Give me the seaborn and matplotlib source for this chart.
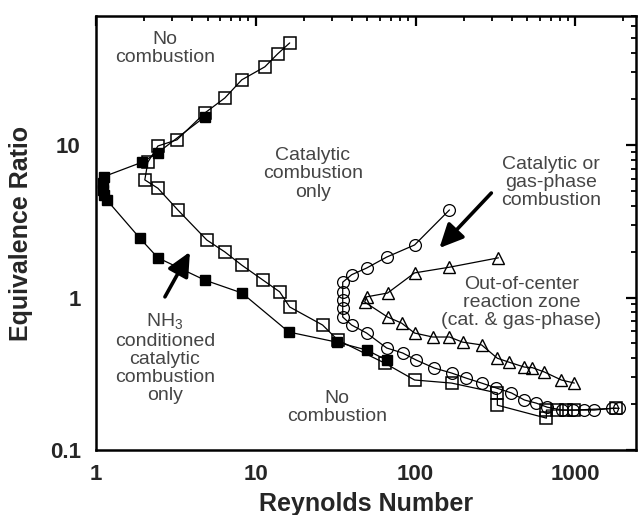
import matplotlib
matplotlib.use("Agg")
import matplotlib.pyplot as plt
import seaborn as sns
import numpy as np
from matplotlib.ticker import LogLocator, NullFormatter, FixedLocator, FixedFormatter

# ---- data ----
# NH3-conditioned catalytic combustion (filled squares)
re_nh3 = [4.8, 2.44, 1.94, 1.12, 1.10, 1.10, 1.13, 1.17, 1.88, 2.44, 4.80, 8.2, 16.1, 32.1, 49.4, 65.9]
phi_nh3 = [15.3, 8.9, 7.7, 6.2, 5.6, 5.1, 4.7, 4.35, 2.45, 1.82, 1.30, 1.07, 0.594, 0.51, 0.453, 0.389]

# catalytic combustion only boundary (open squares)
re_cat = [16.3, 13.7, 11.4, 8.17, 6.40, 4.80, 3.21, 2.44, 2.11, 2.02, 2.44, 3.25, 4.94, 6.40, 8.17,
          11.1, 14.1, 16.3, 26.2, 32.6, 64.0, 98.6, 168, 325, 325, 659, 659, 772, 879, 986, 1800]
phi_cat = [46.6, 39.5, 32.5, 26.7, 20.3, 16.2, 10.8, 9.84, 7.7, 5.9, 5.2, 3.75, 2.38, 1.99, 1.63,
           1.30, 1.09, 0.867, 0.66, 0.526, 0.372, 0.288, 0.275, 0.237, 0.197, 0.162, 0.183, 0.183, 0.183, 0.183, 0.188]

# catalytic or gas-phase combustion (open circles)
re_gas = [163, 98.6, 65.9, 49.4, 39.8, 35.0, 35.0, 35.0, 35.0, 35.0, 39.8, 49.4, 65.9, 83, 101, 131,
          168, 208, 259, 321, 398, 480, 571, 668, 829, 960, 1137, 1314, 1702, 1884]
phi_gas = [3.75, 2.21, 1.84, 1.56, 1.41, 1.26, 1.09, 0.963, 0.853, 0.745, 0.66, 0.585, 0.467, 0.433, 0.389, 0.345,
           0.32, 0.296, 0.275, 0.255, 0.237, 0.213, 0.203, 0.191, 0.183, 0.183, 0.183, 0.183, 0.188, 0.188]

# out-of-center reaction zone (open triangles)
re_out = [330, 163, 98.6, 66.8, 49.4, 48, 66.8, 81.7, 98.6, 128, 163, 197, 259, 325, 387, 480, 538, 640, 818, 986]
phi_out = [1.82, 1.58, 1.45, 1.07, 1.01, 0.934, 0.745, 0.68, 0.585, 0.551, 0.551, 0.51, 0.489, 0.40, 0.376,
           0.35, 0.347, 0.325, 0.288, 0.275]

x_ticks = [1, 10, 100, 1000]
x_ticklabels = ["1", "10", "100", "1000"]
y_ticks = [0.1, 1, 10]
y_ticklabels = ["0.1", "1", "10"]

# ---- style ----
sns.set_style("white")
plt.rcParams["font.family"] = ["Liberation Sans", "DejaVu Sans"]
plt.rcParams["mathtext.fontset"] = "custom"
plt.rcParams["mathtext.rm"] = "Liberation Sans"

fig = plt.figure(figsize=(6.38, 5.15), dpi=100)
ax = fig.add_axes([0.1505, 0.126, 0.997 - 0.1505, 0.969 - 0.126])

common = dict(sort=False, estimator=None, color="black", linewidth=0.9, ax=ax, legend=False)
sns.lineplot(x=re_cat, y=phi_cat, marker="s", markersize=8.5, markerfacecolor="none",
             markeredgecolor="black", markeredgewidth=1.1, **common)
sns.lineplot(x=re_nh3, y=phi_nh3, marker="s", markersize=6.5, markerfacecolor="black",
             markeredgecolor="black", markeredgewidth=1.0, **common)
sns.lineplot(x=re_gas, y=phi_gas, marker="o", markersize=8.5, markerfacecolor="none",
             markeredgecolor="black", markeredgewidth=0.9, **common)
sns.lineplot(x=re_out, y=phi_out, marker="^", markersize=8, markerfacecolor="none",
             markeredgecolor="black", markeredgewidth=1.0, **common)

ax.set_xscale("log")
ax.set_yscale("log")
ax.set_xlim(1, 2400)
ax.set_ylim(0.1, 70)

ax.xaxis.set_major_locator(FixedLocator(x_ticks))
ax.xaxis.set_major_formatter(FixedFormatter(x_ticklabels))
ax.yaxis.set_major_locator(FixedLocator(y_ticks))
ax.yaxis.set_major_formatter(FixedFormatter(y_ticklabels))
ax.xaxis.set_minor_locator(LogLocator(base=10, subs=np.arange(2, 10)))
ax.yaxis.set_minor_locator(LogLocator(base=10, subs=np.arange(2, 10)))
ax.xaxis.set_minor_formatter(NullFormatter())
ax.yaxis.set_minor_formatter(NullFormatter())

ax.tick_params(which="both", direction="in", top=True, right=True, color="black")
ax.tick_params(which="major", length=7, width=1.6)
ax.tick_params(which="minor", length=3.5, width=1.3)
ax.tick_params(axis="x", which="major", pad=10)
ax.tick_params(axis="y", which="major", pad=11)
for lab in ax.get_xticklabels() + ax.get_yticklabels():
    lab.set_fontweight("bold")
    lab.set_fontsize(16)
for sp in ax.spines.values():
    sp.set_linewidth(1.8)
    sp.set_color("black")

ax.set_xlabel("Reynolds Number", fontsize=18, fontweight="bold", labelpad=5)
ax.set_ylabel("Equivalence Ratio", fontsize=18, fontweight="bold", labelpad=12)

tc = "#454545"
tkw = dict(ha="center", va="center", fontsize=14, color=tc, linespacing=1.08)
ax.text(2.70, 42.7, "No\ncombustion", **tkw)
ax.text(22.7, 6.45, "Catalytic\ncombustion\nonly", **tkw)
ax.text(708, 5.64, "Catalytic or\ngas-phase\ncombustion", **tkw)
ax.text(460, 0.934, "Out-of-center\nreaction zone\n(cat. & gas-phase)", **tkw)
ax.text(32.1, 0.19, "No\ncombustion", **tkw)
ax.text(2.70, 0.40, "NH$_3$\nconditioned\ncatalytic\ncombustion\nonly", **tkw)

akw = dict(arrowstyle="-|>,head_length=0.8,head_width=0.38", lw=2.6, color="black",
           shrinkA=0, shrinkB=0, mutation_scale=18)
ax.annotate("", xy=(141, 2.11), xytext=(298, 4.84), arrowprops=akw)
ax.annotate("", xy=(3.87, 1.99), xytext=(2.70, 1.01), arrowprops=akw)

fig.savefig("out.png", dpi=100)
